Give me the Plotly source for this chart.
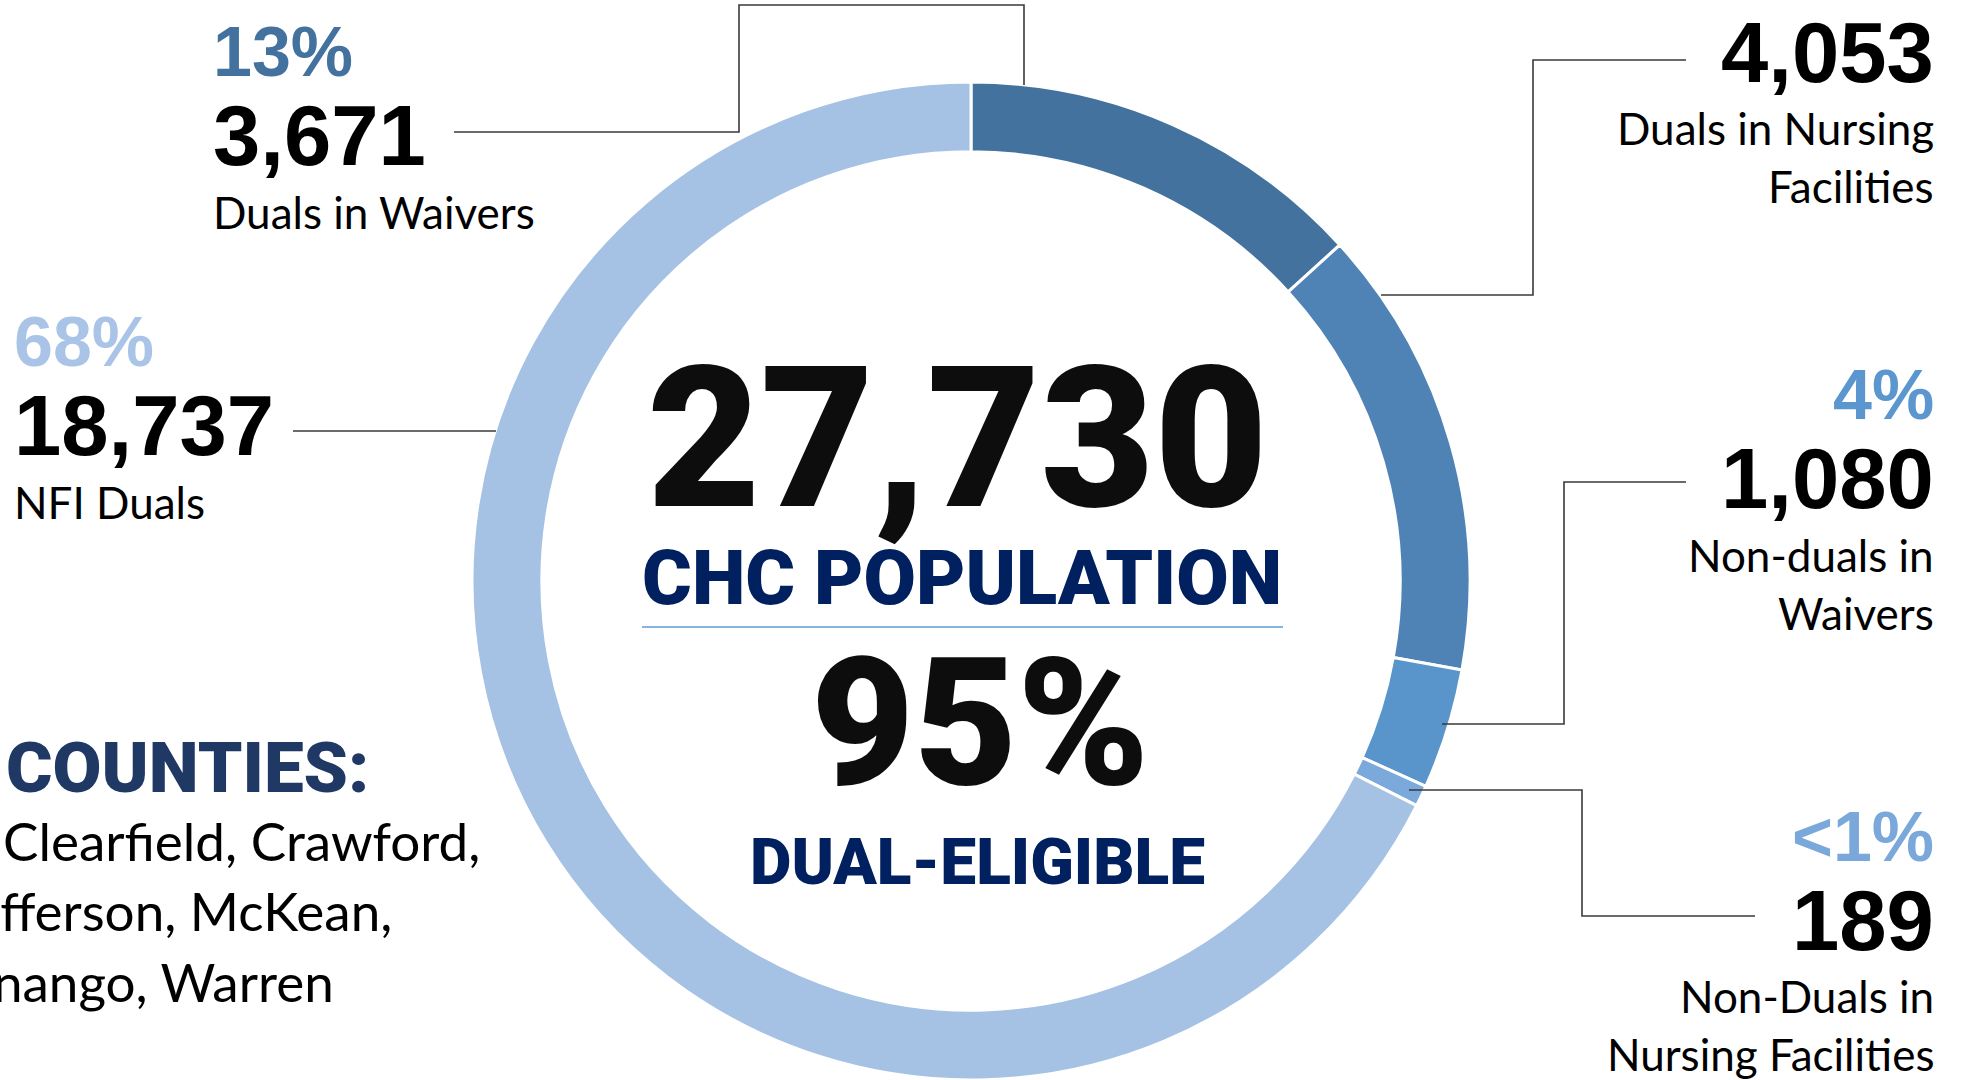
import plotly.graph_objects as go

# ---------------- data ----------------
categories = ["Duals in Waivers", "Duals in Nursing Facilities", "Non-duals in Waivers",
              "Non-Duals in Nursing Facilities", "NFI Duals"]
values = [3671, 4053, 1080, 189, 18737]
pct_labels = ["13%", "", "4%", "<1%", "68%"]
label_lines = [["Duals in Waivers"], ["Duals in Nursing", "Facilities"], ["Non-duals in", "Waivers"],
               ["Non-Duals in", "Nursing Facilities"], ["NFI Duals"]]
total_value = 27730
dual_share = "95%"
center_title = "CHC POPULATION"
center_sub = "DUAL-ELIGIBLE"
counties_title = "COUNTIES:"
counties_lines = ["Clearfield, Crawford,", "Jefferson, McKean,", "Venango, Warren"]

# ---------------- styles ----------------
W, H = 1967, 1080
slice_colors = ["#44729E", "#4F83B5", "#5995CB", "#7CA9DB", "#A5C1E4"]
pct_colors = ["#44729E", "#4F83B5", "#5B97CE", "#7BA8DA", "#A9C4E6"]
NUM_FONT = "Liberation Sans, Arial, sans-serif"
LBL_FONT = "Lato, Open Sans, sans-serif"
HEAVY_FONT = "Roboto, Inter, sans-serif"


def px(x):
    return x / W


def py(y):
    return 1 - y / H


fig = go.Figure()

# donut: centre (971, 582), outer radius ~499 px
cx, cy, r = 971, 581, 499
fig.add_trace(go.Pie(
    labels=categories, values=values, sort=False, direction="clockwise", rotation=0,
    hole=0.86, textinfo="none", hoverinfo="label+value+percent",
    marker=dict(colors=slice_colors, line=dict(color="white", width=3)),
    domain=dict(x=[(cx - r) / W, (cx + r) / W], y=[max(0, (H - cy - r) / H), (H - cy + r) / H]),
    showlegend=False,
))

# label block layout: (align, anchor x, pct centre y, number centre y, label first-line centre y)
blocks = [
    ("left", 211, 52, 135, 212),
    ("right", 1936, None, 53, 128),
    ("right", 1936, 395, 478, 555),
    ("right", 1936, 837, 920, 996),
    ("left", 12, 342, 426, 502),
]
line_pitch = 58

for i, (align, ax, yp, yn, yl) in enumerate(blocks):
    xa = "left" if align == "left" else "right"
    if pct_labels[i] and yp is not None:
        fig.add_annotation(x=px(ax), y=py(yp), xref="paper", yref="paper", xanchor=xa, yanchor="middle",
                           text=f"<b>{pct_labels[i]}</b>", showarrow=False,
                           font=dict(family=NUM_FONT, size=70, color=pct_colors[i]))
    fig.add_annotation(x=px(ax), y=py(yn), xref="paper", yref="paper", xanchor=xa, yanchor="middle",
                       text=f"<b>{values[i]:,}</b>", showarrow=False,
                       font=dict(family=NUM_FONT, size=85, color="#000000"))
    for k, line in enumerate(label_lines[i]):
        fig.add_annotation(x=px(ax), y=py(yl + k * line_pitch), xref="paper", yref="paper", xanchor=xa,
                           yanchor="middle", text=line, showarrow=False,
                           font=dict(family=LBL_FONT, size=44, color="#000000"))

# leader lines (pixel paths)
leaders = [
    [(454, 132), (739, 132), (739, 5), (1024, 5), (1024, 85)],
    [(1686, 60), (1533, 60), (1533, 295), (1381, 295)],
    [(1686, 482), (1564, 482), (1564, 724), (1442, 724)],
    [(1409, 790), (1582, 790), (1582, 916), (1755, 916)],
    [(293, 431), (496, 431)],
]
for pts in leaders:
    path = "M " + " L ".join(f"{px(x)} {py(y)}" for x, y in pts)
    fig.add_shape(type="path", path=path, xref="paper", yref="paper",
                  line=dict(color="#3A3A3A", width=1.6))

# centre texts
fig.add_annotation(x=px(957), y=py(439), xref="paper", yref="paper", xanchor="center", yanchor="middle",
                   text=f"{total_value:,}", showarrow=False,
                   font=dict(family=HEAVY_FONT, size=196, weight=900, color="#0D0D0D"))
fig.add_annotation(x=px(962), y=py(578), xref="paper", yref="paper", xanchor="center", yanchor="middle",
                   text=center_title, showarrow=False,
                   font=dict(family=HEAVY_FONT, size=76, weight=900, color="#002060"))
fig.add_shape(type="line", x0=px(642), x1=px(1283), y0=py(627), y1=py(627), xref="paper", yref="paper",
              line=dict(color="#5B9BD5", width=1.5))
fig.add_annotation(x=px(980), y=py(723), xref="paper", yref="paper", xanchor="center", yanchor="middle",
                   text=dual_share, showarrow=False,
                   font=dict(family=HEAVY_FONT, size=178, weight=900, color="#0D0D0D"))
fig.add_annotation(x=px(977), y=py(862), xref="paper", yref="paper", xanchor="center", yanchor="middle",
                   text=center_sub, showarrow=False,
                   font=dict(family=HEAVY_FONT, size=64, weight=900, color="#002060"))

# counties block
fig.add_annotation(x=px(4), y=py(767), xref="paper", yref="paper", xanchor="left", yanchor="middle",
                   text=counties_title, showarrow=False,
                   font=dict(family=HEAVY_FONT, size=71, weight=900, color="#203864"))
c_anchor = [("left", 1), ("right", 394), ("right", 336)]
c_centres = [840, 910, 981]
for line, (xa, xv), yc in zip(counties_lines, c_anchor, c_centres):
    fig.add_annotation(x=px(xv), y=py(yc), xref="paper", yref="paper", xanchor=xa, yanchor="middle",
                       text=line, showarrow=False,
                       font=dict(family=LBL_FONT, size=53, color="#000000"))

fig.update_layout(width=W, height=H, margin=dict(l=0, r=0, t=0, b=0),
                  paper_bgcolor="white", plot_bgcolor="white", showlegend=False,
                  xaxis=dict(visible=False), yaxis=dict(visible=False))
fig.write_html("out.html", config={"displayModeBar": False},
               post_script="document.body.style.margin='0';document.body.style.overflow='hidden';")
